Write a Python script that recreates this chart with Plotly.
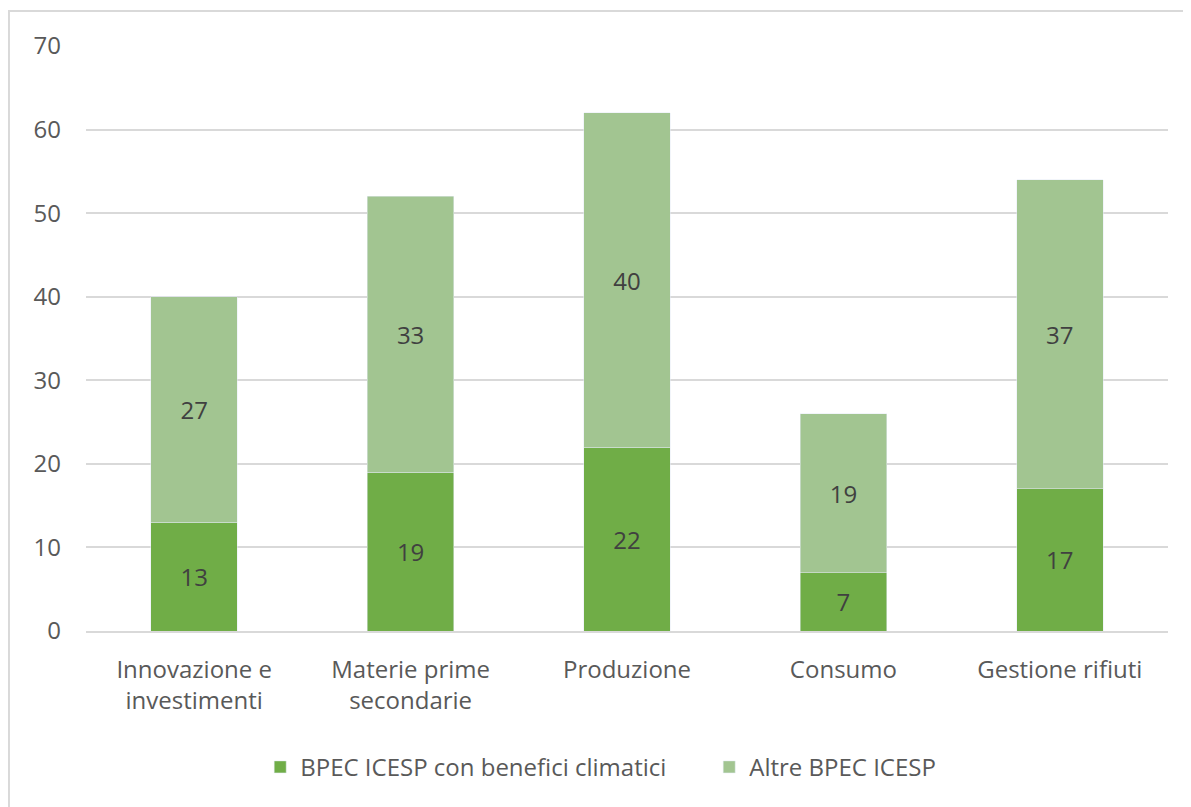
import plotly.graph_objects as go

categories = ["Innovazione e<br>investimenti", "Materie prime<br>secondarie", "Produzione", "Consumo", "Gestione rifiuti"]
climatici = [13, 19, 22, 7, 17]
altre = [27, 33, 40, 19, 37]
series_names = ["BPEC ICESP con benefici climatici", "Altre BPEC ICESP"]
y_ticks = [0, 10, 20, 30, 40, 50, 60, 70]

FONT = "Open Sans"
SIZE = 24
fig = go.Figure()
fig.add_trace(go.Bar(x=categories, y=climatici, name=series_names[0], marker_color="#70AD47",
                     text=climatici, textposition="inside", insidetextanchor="middle",
                     textfont=dict(color="#404040", size=SIZE, family=FONT)))
fig.add_trace(go.Bar(x=categories, y=altre, name=series_names[1], marker_color="#A2C591",
                     text=altre, textposition="inside", insidetextanchor="middle",
                     textfont=dict(color="#404040", size=SIZE, family=FONT)))

fig.update_layout(
    barmode="stack", bargap=0.6,
    width=1175, height=799,
    margin=dict(l=78, r=15, t=38, b=176, autoexpand=False),
    paper_bgcolor="white", plot_bgcolor="white",
    font=dict(family=FONT, color="#595959", size=SIZE),
    uniformtext=dict(mode="show", minsize=8),
    legend=dict(orientation="h", x=0.161, xanchor="left", y=-0.233, yanchor="middle",
                entrywidth=404, font=dict(size=SIZE, color="#595959"), traceorder="normal"),
    shapes=[dict(type="rect", xref="paper", yref="paper", x0=-0.0712, x1=1.2, y0=-0.6, y1=1.0598,
                 line=dict(color="#d9d9d9", width=2), fillcolor="rgba(0,0,0,0)", layer="below")],
)
fig.update_yaxes(range=[0, 70], tickvals=y_ticks, showgrid=True, gridcolor="#d9d9d9", gridwidth=1.5,
                 zeroline=False, showline=False, ticklabelstandoff=24, tickfont=dict(size=SIZE),
                 automargin=False)
fig.update_xaxes(showline=True, linecolor="#d9d9d9", linewidth=1.5, tickfont=dict(size=SIZE),
                 ticklabelstandoff=16, automargin=False)

fig.write_html("out.html")
